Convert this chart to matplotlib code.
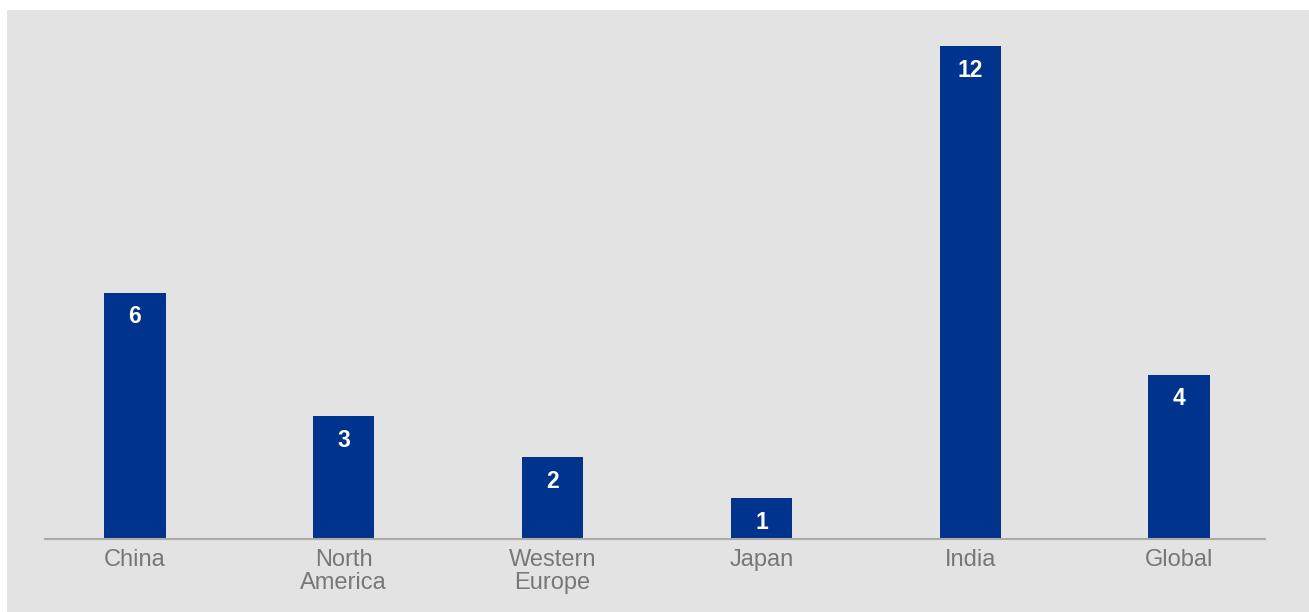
import matplotlib.pyplot as plt
from matplotlib.patches import Rectangle

plt.rcParams['font.family'] = ['Liberation Sans', 'DejaVu Sans']

regions = ['China', 'North\nAmerica', 'Western\nEurope', 'Japan', 'India', 'Global']
values = [6, 3, 2, 1, 12, 4]

BLUE = '#00338d'
BG = '#e3e3e3'

fig = plt.figure(figsize=(13.09, 6.12), dpi=100)
fig.patch.set_facecolor('white')
# grey panel behind the chart, leaving a thin white strip top and left
fig.patches.append(Rectangle((7 / 1309, 0), 1, 602 / 612, transform=fig.transFigure,
                             facecolor=BG, edgecolor='none', zorder=-10))

ax = fig.add_axes([45 / 1309, 73 / 612, 1220 / 1309, 493 / 612])
ax.set_facecolor('none')

x = list(range(len(values)))
bars = ax.bar(x, values, width=0.293, color=BLUE, zorder=2)

for b, v in zip(bars, values):
    ax.annotate(str(v), (b.get_x() + b.get_width() / 2, v), xytext=(0, -17.5),
                textcoords='offset points', ha='center', va='center',
                color='white', fontsize=16.5, fontweight='bold')

ax.set_xlim(-0.431, 5.412)
ax.set_ylim(0, 12)
ax.set_yticks([])
ax.set_xticks(x)
ax.set_xticklabels(regions, fontsize=17, color='#777777', linespacing=1.1)
ax.tick_params(axis='x', length=0, pad=7)

for side in ['top', 'right', 'left']:
    ax.spines[side].set_visible(False)
ax.spines['bottom'].set_color('#aaaaaa')
ax.spines['bottom'].set_linewidth(1.5)

plt.savefig('out.png', dpi=100)
